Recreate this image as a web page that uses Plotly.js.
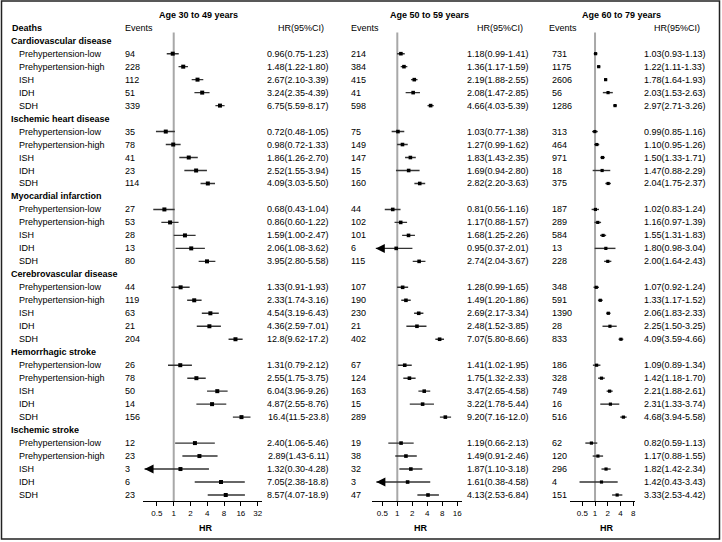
<!DOCTYPE html>
<html><head><meta charset="utf-8">
<script src="https://cdn.plot.ly/plotly-3.0.1.min.js"></script>
<style>html,body{margin:0;padding:0;background:#fff}#chart{width:722px;height:542px}</style>
</head><body><div id="chart"></div>
<script>
// ---------------- DATA ----------------
const groups = ["Cardiovascular disease","Ischemic heart disease","Myocardial infarction","Cerebrovascular disease","Hemorrhagic stroke","Ischemic stroke"];
const subgroups = ["Prehypertension-low","Prehypertension-high","ISH","IDH","SDH"];
const ageLabels = ["Age 30 to 49 years","Age 50 to 59 years","Age 60 to 79 years"];
const tickVals = [0.5,1,2,4,8,16,32];
const tickLabels = ["0.5","1","2","4","8","16","32"];
const refValue = 1;

// Age 30 to 49 years (6 groups x 5 subgroups)
const events30 = [94,228,112,51,339, 35,78,41,23,114, 27,53,28,13,80, 44,119,63,21,204, 26,78,50,14,156, 12,23,3,6,23];
const hr30 = [0.96,1.48,2.67,3.24,6.75, 0.72,0.98,1.86,2.52,4.09, 0.68,0.86,1.59,2.06,3.95, 1.33,2.33,4.54,4.36,12.8, 1.31,2.55,6.04,4.87,16.4, 2.40,2.89,1.32,7.05,8.57];
const lo30 = [0.75,1.22,2.10,2.35,5.59, 0.48,0.72,1.26,1.55,3.03, 0.43,0.60,1.00,1.08,2.80, 0.91,1.74,3.19,2.59,9.62, 0.79,1.75,3.96,2.55,11.5, 1.06,1.43,0.30,2.38,4.07];
const hi30 = [1.23,1.80,3.39,4.39,8.17, 1.05,1.33,2.70,3.94,5.50, 1.04,1.22,2.47,3.62,5.58, 1.93,3.16,6.43,7.01,17.2, 2.12,3.75,9.26,8.76,23.8, 5.46,6.11,4.28,18.8,18.9];

// Age 50 to 59 years
const events50 = [214,384,415,41,598, 75,149,147,15,160, 44,102,101,6,115, 107,190,230,21,402, 67,124,163,15,289, 19,38,32,3,47];
const hr50 = [1.18,1.36,2.19,2.08,4.66, 1.03,1.27,1.83,1.69,2.82, 0.81,1.17,1.68,0.95,2.74, 1.28,1.49,2.69,2.48,7.07, 1.41,1.75,3.47,3.22,9.20, 1.19,1.49,1.87,1.61,4.13];
const lo50 = [0.99,1.17,1.88,1.47,4.03, 0.77,0.99,1.43,0.94,2.20, 0.56,0.88,1.25,0.37,2.04, 0.99,1.20,2.17,1.52,5.80, 1.02,1.32,2.65,1.78,7.16, 0.66,0.91,1.10,0.38,2.53];
const hi50 = [1.41,1.59,2.55,2.85,5.39, 1.38,1.62,2.35,2.80,3.63, 1.16,1.57,2.26,2.01,3.67, 1.65,1.86,3.34,3.85,8.66, 1.95,2.33,4.58,5.44,12.0, 2.13,2.46,3.18,4.58,6.84];

// Age 60 to 79 years
const events60 = [731,1175,2606,56,1286, 313,464,971,18,375, 187,289,584,13,228, 348,591,1390,28,833, 186,328,749,16,516, 62,120,296,4,151];
const hr60 = [1.03,1.22,1.78,2.03,2.97, 0.99,1.10,1.50,1.47,2.04, 1.02,1.16,1.55,1.80,2.00, 1.07,1.33,2.06,2.25,4.09, 1.09,1.42,2.21,2.31,4.68, 0.82,1.17,1.82,1.42,3.33];
const lo60 = [0.93,1.11,1.64,1.53,2.71, 0.85,0.95,1.33,0.88,1.75, 0.83,0.97,1.31,0.98,1.64, 0.92,1.17,1.83,1.50,3.59, 0.89,1.18,1.88,1.33,3.94, 0.59,0.88,1.42,0.43,2.53];
const hi60 = [1.13,1.33,1.93,2.63,3.26, 1.16,1.26,1.71,2.29,2.37, 1.24,1.39,1.83,3.04,2.43, 1.24,1.52,2.33,3.25,4.66, 1.34,1.70,2.61,3.74,5.58, 1.13,1.55,2.34,3.43,4.42];

// ---------------- LAYOUT SETTINGS ----------------
const W = 722, H = 542, plotBottom = 501;
const row0px = 14.74, rowStep = 12.98;          // pixel centre of row 0 and row spacing
const clipLow = 0.4;                            // CIs below this get an arrow
const FONT = "Liberation Sans, Arial, Helvetica, sans-serif";
const panels = [
  {ev: events30, hr: hr30, lo: lo30, hi: hi30, ax: "x",  dom: [143.3, 262.3], rng: [-0.5455, 1.5883], ticks: 7, box: 4,
   evX: 124.7, evHX: 124.7, hrX: 298, hrHX: 301, ageX: 198, titleX: 206.3},
  {ev: events50, hr: hr50, lo: lo50, hi: hi50, ax: "x2", dom: [372.3, 461.7], rng: [-0.5018, 1.2923], ticks: 6, box: 3.6,
   evX: 351.4, evHX: 350.7, hrX: 498, hrHX: 499.5, ageX: 429.3, titleX: 421},
  {ev: events60, hr: hr60, lo: lo60, hi: hi60, ax: "x3", dom: [570, 635], rng: [-0.5915, 0.9443], ticks: 5, box: 3.2,
   evX: 551.7, evHX: 549.3, hrX: 674.7, hrHX: 677, ageX: 621.3, titleX: 607.3}
];

const rowOf = (g, i) => 3 + 6 * g + i;
const groupRow = g => 2 + 6 * g;
const pxToRow = py => (py - row0px) / rowStep;
const fmt = v => v >= 10 ? v.toFixed(1) : v.toFixed(2);

const traces = [];
const annotations = [];
const shapes = [];
const layout = {
  width: W, height: H,
  margin: {l: 0, r: 0, t: 0, b: H - plotBottom, pad: 0},
  paper_bgcolor: "#fff", plot_bgcolor: "rgba(0,0,0,0)",
  showlegend: false,
  font: {family: FONT, size: 9, color: "#000"},
  yaxis: {range: [pxToRow(plotBottom), pxToRow(0)], visible: false, fixedrange: true, domain: [0, 1]},
  annotations: annotations, shapes: shapes
};

function ann(text, px, row, anchor, opts) {
  annotations.push(Object.assign({
    text: text, xref: "paper", yref: "y", x: px / W, y: row,
    xanchor: anchor, yanchor: "middle", showarrow: false, borderpad: 0, borderwidth: 0,
    font: {family: FONT, size: 9, color: "#000"}
  }, opts || {}));
}

// Left label column
ann("<b>Deaths</b>", 12, 1, "left");
groups.forEach((g, gi) => {
  ann("<b>" + g + "</b>", 11, groupRow(gi), "left");
  subgroups.forEach((s, si) => ann(s, 19, rowOf(gi, si), "left"));
});

panels.forEach((p, k) => {
  const axName = k === 0 ? "xaxis" : "xaxis" + (k + 1);
  layout[axName] = {
    type: "log", range: p.rng, domain: [p.dom[0] / W, p.dom[1] / W], anchor: "y",
    showline: true, linecolor: "#000", linewidth: 1, mirror: false,
    ticks: "outside", ticklen: 4, tickwidth: 1, tickcolor: "#000",
    tickvals: tickVals.slice(0, p.ticks), ticktext: tickLabels.slice(0, p.ticks),
    tickfont: {family: FONT, size: 8, color: "#000"},
    showgrid: false, zeroline: false, fixedrange: true
  };
  // reference line at HR = 1
  traces.push({type: "scatter", mode: "lines", x: [refValue, refValue], y: [pxToRow(32.5), pxToRow(plotBottom)],
    xaxis: p.ax, yaxis: "y", line: {color: "#a8a8a8", width: 2}, hoverinfo: "skip", cliponaxis: false});

  const lx = [], ly = [], mx = [], my = [], arX = [], arY = [];
  groups.forEach((g, gi) => subgroups.forEach((s, si) => {
    const j = gi * 5 + si, r = rowOf(gi, si);
    lx.push(p.lo[j], p.hi[j], null); ly.push(r, r, null);
    mx.push(p.hr[j]); my.push(r);
    if (p.lo[j] < clipLow) { arX.push(p.lo[j]); arY.push(r); }
    ann(String(p.ev[j]), p.evX, r, "left");
    ann(fmt(p.hr[j]) + "(" + fmt(p.lo[j]) + "-" + fmt(p.hi[j]) + ")", p.hrX, r, "center");
  }));
  traces.push({type: "scatter", mode: "lines", x: lx, y: ly, xaxis: p.ax, yaxis: "y",
    line: {color: "#333", width: 1.4}, hoverinfo: "skip", cliponaxis: false});
  traces.push({type: "scatter", mode: "markers", x: mx, y: my, xaxis: p.ax, yaxis: "y",
    marker: {symbol: "square", size: p.box, color: "#000"}, cliponaxis: false});
  if (arX.length) traces.push({type: "scatter", mode: "markers", x: arX, y: arY, xaxis: p.ax, yaxis: "y",
    marker: {symbol: "arrow-left", size: 9, color: "#000"}, cliponaxis: false});

  // headers
  ann("<b>" + ageLabels[k] + "</b>", p.ageX, 0, "center");
  ann("Events", p.evHX, 1, "left");
  ann("HR(95%CI)", p.hrHX, 1, "center");
  ann("<b>HR</b>", p.titleX, (plotBottom - 527.7) / plotBottom, "center", {yref: "paper"});
});

// outer frame
shapes.push({type: "rect", xref: "paper", yref: "paper",
  x0: 1.5 / W, x1: 719.5 / W, y0: (plotBottom - 539) / plotBottom, y1: (plotBottom - 1) / plotBottom,
  line: {color: "#222", width: 1.5}, fillcolor: "rgba(0,0,0,0)"});

Plotly.newPlot("chart", traces, layout, {staticPlot: true, displayModeBar: false});
</script>
</body></html>
